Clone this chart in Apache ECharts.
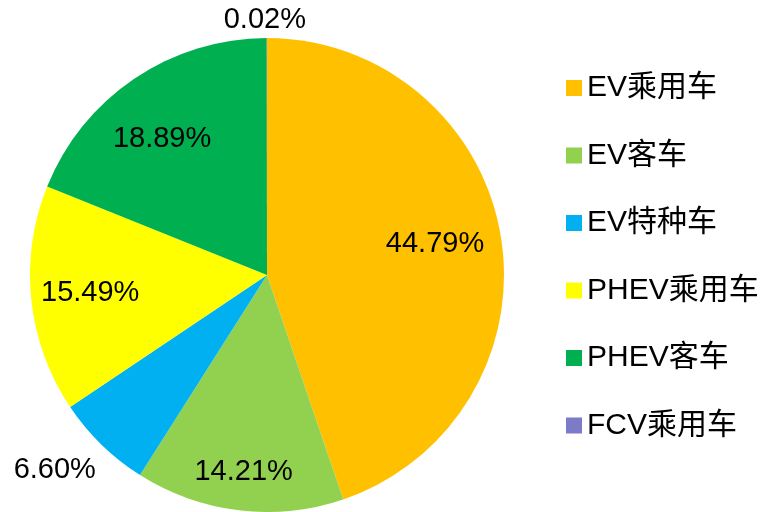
<!DOCTYPE html>
<html>
<head>
<meta charset="utf-8">
<script src="https://cdn.jsdelivr.net/npm/echarts@6/dist/echarts.min.js"></script>
<style>
  html, body { margin: 0; padding: 0; background: #fff; }
  #chart { width: 769px; height: 512px; }
</style>
</head>
<body>
<div id="chart"></div>
<script>
const categories = ['EV乘用车', 'EV客车', 'EV特种车', 'PHEV乘用车', 'PHEV客车', 'FCV乘用车'];
const shares = [44.79, 14.21, 6.60, 15.49, 18.89, 0.02];
const colors = ['#FFC000', '#92D050', '#00B0F0', '#FFFF00', '#00B050', '#7B7BC8'];

// where each label sits: fraction of the pie radius, plus a small pixel nudge
const labelRadius = [0.71, 0.83, 1.21, 0.75, 0.73, 1.085];
const labelNudge = [[2, -4], [0, 2], [-12, -10], [0, 0], [-8, 7], [-2, 2]];

const cx = 267, cy = 275, R = 237;
const total = shares.reduce((s, v) => s + v, 0);
const cumStart = [];
shares.reduce((acc, v, i) => { cumStart[i] = acc; return acc + v; }, 0);

const chart = echarts.init(document.getElementById('chart'));
const font = '"Liberation Sans", Arial, "Noto Sans CJK SC", sans-serif';

chart.setOption({
  animation: false,
  color: colors,
  legend: {
    orient: 'vertical',
    left: 561,
    top: 68,
    icon: 'rect',
    itemWidth: 16,
    itemHeight: 16,
    itemGap: 37.5,
    textStyle: { fontSize: 30, lineHeight: 30, color: '#000', fontFamily: font },
    data: categories
  },
  series: [{
    type: 'pie',
    center: [cx, cy],
    radius: R,
    startAngle: 90,
    clockwise: true,
    avoidLabelOverlap: false,
    label: {
      show: true,
      position: 'inside',
      align: 'center',
      verticalAlign: 'middle',
      fontSize: 29,
      color: '#000',
      fontFamily: font,
      formatter: p => shares[p.dataIndex].toFixed(2) + '%'
    },
    labelLine: { show: false },
    labelLayout: p => {
      const i = p.dataIndex;
      const mid = (cumStart[i] + shares[i] / 2) / total * Math.PI * 2;
      const r = R * labelRadius[i];
      return {
        x: cx + Math.sin(mid) * r + labelNudge[i][0],
        y: cy - Math.cos(mid) * r + labelNudge[i][1]
      };
    },
    emphasis: { disabled: true },
    data: categories.map((name, i) => ({ name, value: shares[i] }))
  }]
});
</script>
</body>
</html>
